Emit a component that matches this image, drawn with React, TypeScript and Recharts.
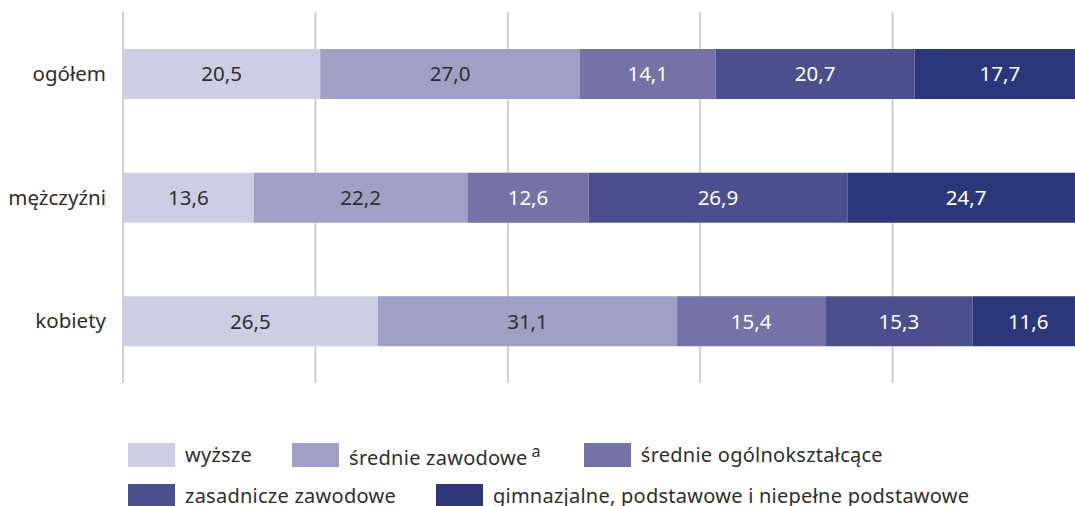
import { Bar, BarChart, CartesianGrid, LabelList, XAxis, YAxis } from 'recharts'

const CATEGORIES = ['ogółem', 'mężczyźni', 'kobiety']
const WYZSZE = [20.5, 13.6, 26.5]
const SREDNIE_ZAWODOWE = [27.0, 22.2, 31.1]
const SREDNIE_OGOLNE = [14.1, 12.6, 15.4]
const ZASADNICZE = [20.7, 26.9, 15.3]
const GIMNAZJALNE = [17.7, 24.7, 11.6]
const X_TICKS = [0, 20, 40, 60, 80, 100]

const FONT = '"Noto Sans", "Open Sans", sans-serif'
const TEXT = '#2e2e2e'

const SERIES = [
  { key: 'wyzsze', name: 'wyższe', sup: '', color: '#cdcde4', label: TEXT, values: WYZSZE },
  { key: 'srZaw', name: 'średnie zawodowe', sup: 'a', color: '#a09fc6', label: TEXT, values: SREDNIE_ZAWODOWE },
  { key: 'srOg', name: 'średnie ogólnokształcące', sup: '', color: '#7472a6', label: '#ffffff', values: SREDNIE_OGOLNE },
  { key: 'zas', name: 'zasadnicze zawodowe', sup: '', color: '#4c4f8e', label: '#ffffff', values: ZASADNICZE },
  { key: 'gim', name: 'gimnazjalne, podstawowe i niepełne podstawowe', sup: '', color: '#2c377b', label: '#ffffff', values: GIMNAZJALNE },
]

const data = CATEGORIES.map((name, i) => {
  const row: Record<string, string | number> = { name }
  for (const s of SERIES) row[s.key] = s.values[i]
  return row
})

const fmt = (v: any) => (v as number).toFixed(1).replace('.', ',')

function LegendItem({ s }: { s: (typeof SERIES)[number] }) {
  return (
    <div style={{ display: 'flex', alignItems: 'center' }}>
      <div style={{ width: 47, height: 24, background: s.color, marginRight: 10 }} />
      <span
        style={{
          fontSize: 20,
          color: TEXT,
          fontFamily: FONT,
          whiteSpace: 'nowrap',
          lineHeight: '24px',
          letterSpacing: 0.25,
        }}
      >
        {s.name}
        {s.sup && <sup style={{ fontSize: 16, marginLeft: 4, marginRight: 3, verticalAlign: 8 }}>{s.sup}</sup>}
      </span>
    </div>
  )
}

export default function App() {
  return (
    <div
      style={{
        position: 'fixed',
        top: 0,
        left: 0,
        width: 1075,
        height: 506,
        overflow: 'hidden',
        background: '#ffffff',
        fontFamily: FONT,
      }}
    >
      <BarChart
        width={1100}
        height={383}
        data={data}
        layout="vertical"
        margin={{ top: 12, right: 15, bottom: 0, left: 0 }}
        barCategoryGap={0}
      >
        <CartesianGrid horizontal={false} stroke="#cfcfcf" strokeWidth={2} verticalValues={X_TICKS} />
        <XAxis
          type="number"
          domain={[0, 100]}
          ticks={X_TICKS}
          tick={{ fill: 'transparent', fontSize: 1 }}
          axisLine={false}
          tickLine={false}
          height={0}
        />
        <YAxis
          type="category"
          dataKey="name"
          width={123}
          axisLine={false}
          tickLine={false}
          tickSize={0}
          tickMargin={17}
          tick={{ fontSize: 20.5, fill: TEXT, fontFamily: FONT }}
        />
        {SERIES.map((s) => (
          <Bar key={s.key} dataKey={s.key} stackId="a" fill={s.color} barSize={50} isAnimationActive={false}>
            <LabelList
              dataKey={s.key}
              position="center"
              formatter={fmt}
              fill={s.label}
              style={{ fontSize: 20.5, fontFamily: FONT }}
            />
          </Bar>
        ))}
      </BarChart>

      <div style={{ position: 'absolute', left: 128, top: 439, display: 'flex', gap: 40 }}>
        {SERIES.slice(0, 3).map((s) => (
          <LegendItem key={s.key} s={s} />
        ))}
      </div>
      <div style={{ position: 'absolute', left: 128, top: 484, display: 'flex', gap: 40 }}>
        {SERIES.slice(3).map((s) => (
          <LegendItem key={s.key} s={s} />
        ))}
      </div>
    </div>
  )
}
